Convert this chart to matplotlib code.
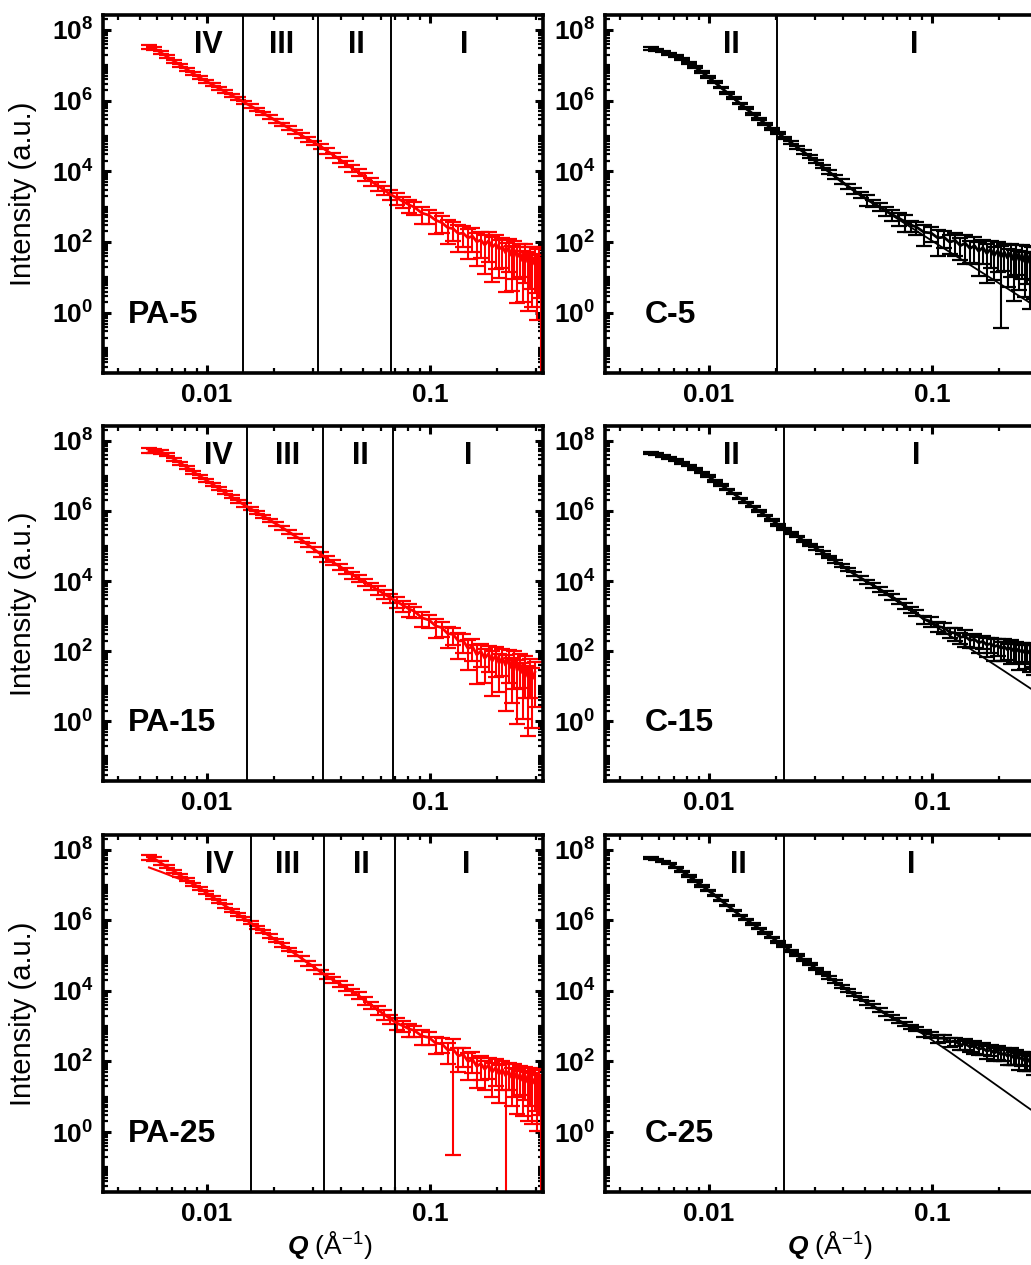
import numpy as np
import matplotlib
matplotlib.use("Agg")
import matplotlib.pyplot as plt
from matplotlib.ticker import LogLocator, FixedLocator, NullFormatter, FuncFormatter
import matplotlib.transforms as mtransforms

plt.rcParams['font.family'] = ['Liberation Sans', 'DejaVu Sans']
plt.rcParams['mathtext.fontset'] = 'custom'
plt.rcParams['mathtext.rm'] = 'Liberation Sans'
plt.rcParams['mathtext.bf'] = 'Liberation Sans:bold'
plt.rcParams['mathtext.it'] = 'Liberation Sans:italic'
plt.rcParams['mathtext.bfit'] = 'Liberation Sans:italic:bold'

# Q grid (1/A) shared by all six curves
q = [0.0055, 0.0058, 0.0062, 0.0066, 0.0071, 0.0076, 0.0081, 0.0087, 0.0093, 0.0099,
     0.0106, 0.0113, 0.0121, 0.0129, 0.0138, 0.0147, 0.0157, 0.0168, 0.0179, 0.0191,
     0.0204, 0.0218, 0.0233, 0.0249, 0.0266, 0.0284, 0.0303, 0.0323, 0.0345, 0.0368,
     0.0393, 0.042, 0.0448, 0.0478, 0.051, 0.0545, 0.0582, 0.0621, 0.0663, 0.0708,
     0.0756, 0.0807,
     0.085, 0.092, 0.099, 0.106, 0.113, 0.120, 0.127, 0.134, 0.141, 0.148,
     0.155, 0.162, 0.169, 0.176, 0.183, 0.190, 0.197, 0.204, 0.211, 0.218,
     0.225, 0.232, 0.239, 0.246, 0.253, 0.260, 0.267, 0.274, 0.281, 0.288,
     0.295, 0.302, 0.309, 0.316]

# log10 intensities
pa5 = [7.52, 7.48, 7.36, 7.25, 7.12, 7.00, 6.89, 6.76, 6.65, 6.55,
       6.45, 6.35, 6.25, 6.15, 6.05, 5.95, 5.85, 5.74, 5.64, 5.54,
       5.43, 5.33, 5.22, 5.12, 5.01, 4.91, 4.81, 4.71, 4.58, 4.46,
       4.34, 4.21, 4.09, 3.97, 3.85, 3.72, 3.60, 3.48, 3.35, 3.25,
       3.15, 3.05,
       2.99, 2.82, 2.76, 2.62, 2.55, 2.41, 2.38, 2.24, 2.25, 2.12,
       2.17, 2.01, 2.06, 1.92, 2.04, 1.86, 1.95, 1.80, 1.88, 1.70,
       1.84, 1.62, 1.77, 1.58, 1.70, 1.47, 1.68, 1.44, 1.59, 1.38,
       1.57, 1.33, 1.52, 1.25]
pa15 = [7.72, 7.71, 7.69, 7.61, 7.48, 7.36, 7.25, 7.11, 6.99, 6.88,
        6.76, 6.64, 6.52, 6.40, 6.28, 6.17, 6.06, 5.95, 5.85, 5.74,
        5.63, 5.52, 5.40, 5.28, 5.17, 5.03, 4.90, 4.77, 4.64, 4.53,
        4.42, 4.30, 4.18, 4.08, 3.97, 3.86, 3.75, 3.64, 3.53, 3.42,
        3.31, 3.20,
        3.14, 2.95, 2.89, 2.72, 2.67, 2.50, 2.48, 2.29, 2.30, 2.08,
        2.13, 1.90, 2.00, 1.80, 1.93, 1.72, 1.88, 1.66, 1.82, 1.60,
        1.78, 1.52, 1.74, 1.45, 1.66, 1.38, 1.58, 1.28, 1.50, 1.22,
        1.40]
pa25 = [7.78, 7.75, 7.63, 7.52, 7.40, 7.27, 7.16, 7.03, 6.91, 6.79,
        6.66, 6.54, 6.41, 6.29, 6.17, 6.05, 5.93, 5.80, 5.68, 5.56,
        5.43, 5.31, 5.18, 5.05, 4.92, 4.79, 4.67, 4.54, 4.42, 4.31,
        4.20, 4.09, 3.98, 3.87, 3.73, 3.60, 3.47, 3.34, 3.21, 3.09,
        3.01, 2.92,
        2.88, 2.72, 2.68, 2.52, 2.50, 2.33, 2.34, 2.16, 2.20, 2.00,
        2.06, 1.86, 1.94, 1.78, 1.90, 1.70, 1.83, 1.64, 1.78, 1.60,
        1.72, 1.55, 1.68, 1.50, 1.64, 1.46, 1.60, 1.41, 1.55, 1.38,
        1.52, 1.33, 1.48, 1.30]
c5 = [7.47, 7.44, 7.39, 7.33, 7.26, 7.18, 7.07, 6.94, 6.80, 6.67,
      6.52, 6.37, 6.22, 6.07, 5.92, 5.78, 5.63, 5.48, 5.35, 5.21,
      5.08, 4.95, 4.82, 4.68, 4.55, 4.41, 4.27, 4.13, 3.99, 3.85,
      3.71, 3.58, 3.45, 3.33, 3.21, 3.10, 3.00, 2.89, 2.78, 2.68,
      2.58, 2.48,
      2.43, 2.28, 2.26, 2.12, 2.14, 2.00, 2.05, 1.90, 1.97, 1.82,
      1.90, 1.74, 1.85, 1.68, 1.80, 1.62, 1.76, 1.58, 1.72, 1.55,
      1.70, 1.50, 1.67, 1.48, 1.65, 1.45, 1.63, 1.42, 1.62, 1.40,
      1.60, 1.38, 1.58, 1.36]
c15 = [7.65, 7.62, 7.57, 7.51, 7.45, 7.37, 7.29, 7.19, 7.09, 6.99,
       6.86, 6.74, 6.61, 6.49, 6.36, 6.24, 6.12, 5.99, 5.87, 5.74,
       5.61, 5.49, 5.38, 5.27, 5.15, 5.04, 4.93, 4.82, 4.69, 4.57,
       4.45, 4.32, 4.20, 4.09, 3.98, 3.88, 3.77, 3.66, 3.55, 3.43,
       3.30, 3.18,
       3.09, 2.91, 2.85, 2.71, 2.67, 2.54, 2.52, 2.40, 2.42, 2.31,
       2.34, 2.24, 2.28, 2.18, 2.22, 2.13, 2.17, 2.08, 2.13, 2.04,
       2.10, 2.01, 2.07, 1.98, 2.04, 1.96, 2.02, 1.94, 2.00, 1.92,
       1.98, 1.91, 1.97, 1.89]
c25 = [7.76, 7.72, 7.67, 7.61, 7.50, 7.38, 7.26, 7.11, 6.98, 6.85,
       6.71, 6.57, 6.42, 6.28, 6.14, 6.02, 5.90, 5.77, 5.64, 5.52,
       5.39, 5.27, 5.14, 5.01, 4.88, 4.76, 4.63, 4.51, 4.38, 4.26,
       4.14, 4.01, 3.89, 3.78, 3.67, 3.57, 3.46, 3.35, 3.25, 3.16,
       3.07, 2.98,
       2.93, 2.80, 2.77, 2.66, 2.66, 2.56, 2.57, 2.47, 2.50, 2.41,
       2.44, 2.35, 2.38, 2.29, 2.33, 2.24, 2.29, 2.19, 2.24, 2.15,
       2.20, 2.11, 2.16, 2.07, 2.12, 2.02, 2.08, 1.99, 2.05, 1.96,
       2.02, 1.93, 1.99, 1.90]

# relative errors (sigma / I)
pa5_err = [0.15, 0.12, 0.12, 0.1, 0.1, 0.1, 0.1, 0.1, 0.1, 0.1,
           0.1, 0.1, 0.1, 0.1, 0.1, 0.1, 0.1, 0.1, 0.1, 0.1,
           0.12, 0.12, 0.12, 0.12, 0.15, 0.15, 0.15, 0.15, 0.18, 0.18,
           0.2, 0.2, 0.22, 0.22, 0.25, 0.25, 0.28, 0.3, 0.3, 0.35,
           0.35, 0.4,
           0.4, 0.5, 0.45, 0.6, 0.5, 0.65, 0.55, 0.7, 0.6, 0.75,
           0.65, 0.8, 0.7, 0.85, 0.75, 0.9, 0.8, 0.85, 0.75, 0.92,
           0.8, 0.9, 0.85, 0.95, 0.8, 0.93, 0.85, 0.96, 0.88, 0.94,
           0.9, 0.97, 0.92, 1.05]
pa15_err = [0.15, 0.12, 0.12, 0.1, 0.1, 0.1, 0.1, 0.1, 0.1, 0.1,
            0.1, 0.1, 0.1, 0.1, 0.1, 0.1, 0.1, 0.1, 0.1, 0.1,
            0.12, 0.12, 0.12, 0.12, 0.15, 0.15, 0.15, 0.15, 0.18, 0.18,
            0.2, 0.2, 0.22, 0.22, 0.25, 0.25, 0.28, 0.3, 0.3, 0.35,
            0.35, 0.4,
            0.35, 0.45, 0.4, 0.55, 0.45, 0.6, 0.5, 0.7, 0.55, 0.75,
            0.6, 0.85, 0.65, 0.8, 0.7, 0.9, 0.75, 0.85, 0.7, 0.95,
            0.8, 0.9, 0.85, 0.97, 0.8, 0.95, 0.88, 0.98, 0.85, 0.96,
            0.9]
pa25_err = [0.15, 0.12, 0.12, 0.1, 0.1, 0.1, 0.1, 0.1, 0.1, 0.1,
            0.1, 0.1, 0.1, 0.1, 0.1, 0.1, 0.1, 0.1, 0.1, 0.1,
            0.12, 0.12, 0.12, 0.12, 0.15, 0.15, 0.15, 0.15, 0.18, 0.18,
            0.2, 0.2, 0.22, 0.22, 0.25, 0.25, 0.28, 0.3, 0.3, 0.35,
            0.35, 0.4,
            0.35, 0.45, 0.4, 0.5, 0.45, 0.6, 0.999, 0.65, 0.55, 0.7,
            0.6, 0.75, 0.65, 0.75, 0.6, 0.8, 0.7, 0.85, 0.75, 1.1,
            0.7, 0.85, 0.8, 0.9, 0.75, 0.9, 0.8, 0.92, 0.85, 0.93,
            0.88, 0.95, 0.9, 1.05]
c5_err = [0.08, 0.06, 0.06, 0.06, 0.06, 0.06, 0.06, 0.06, 0.06, 0.06,
          0.06, 0.06, 0.06, 0.06, 0.06, 0.06, 0.06, 0.06, 0.06, 0.06,
          0.08, 0.08, 0.08, 0.08, 0.1, 0.1, 0.1, 0.1, 0.12, 0.12,
          0.15, 0.15, 0.18, 0.2, 0.35, 0.2, 0.25, 0.3, 0.35, 0.4,
          0.5, 0.35,
          0.4, 0.6, 0.45, 0.7, 0.5, 0.55, 0.65, 0.6, 0.75, 0.6,
          0.7, 0.8, 0.65, 0.85, 0.7, 0.8, 0.75, 0.99, 0.7, 0.85,
          0.8, 0.93, 0.75, 0.85, 0.8, 0.9, 0.85, 0.95, 0.8, 0.9,
          0.85, 0.93, 0.88, 0.95]
c15_err = [0.06, 0.05, 0.05, 0.05, 0.05, 0.05, 0.05, 0.05, 0.05, 0.05,
           0.05, 0.05, 0.05, 0.05, 0.05, 0.05, 0.05, 0.05, 0.05, 0.05,
           0.06, 0.06, 0.06, 0.06, 0.07, 0.07, 0.08, 0.08, 0.08, 0.1,
           0.1, 0.1, 0.12, 0.12, 0.12, 0.15, 0.15, 0.15, 0.18, 0.18,
           0.2, 0.2,
           0.2, 0.25, 0.3, 0.3, 0.35, 0.3, 0.4, 0.35, 0.5, 0.4,
           0.45, 0.5, 0.4, 0.55, 0.45, 0.6, 0.5, 0.55, 0.6, 0.5,
           0.65, 0.55, 0.6, 0.7, 0.55, 0.65, 0.6, 0.7, 0.65, 0.75,
           0.6, 0.7, 0.65, 0.8]
c25_err = [0.06, 0.05, 0.05, 0.05, 0.05, 0.05, 0.05, 0.05, 0.05, 0.05,
           0.05, 0.05, 0.05, 0.05, 0.05, 0.05, 0.05, 0.05, 0.05, 0.05,
           0.06, 0.06, 0.06, 0.06, 0.07, 0.07, 0.08, 0.08, 0.08, 0.1,
           0.1, 0.1, 0.1, 0.1, 0.12, 0.12, 0.12, 0.12, 0.15, 0.15,
           0.15, 0.15,
           0.15, 0.2, 0.2, 0.25, 0.2, 0.3, 0.25, 0.3, 0.35, 0.3,
           0.4, 0.3, 0.35, 0.4, 0.35, 0.4, 0.45, 0.35, 0.4, 0.45,
           0.5, 0.4, 0.45, 0.5, 0.45, 0.5, 0.55, 0.45, 0.5, 0.55,
           0.5, 0.6, 0.55, 0.85]

# fitted curves (log10 I)
fit_q = [0.0055, 0.0065, 0.0075, 0.009, 0.011, 0.014, 0.018, 0.024, 0.032,
         0.042, 0.055, 0.07, 0.09, 0.12, 0.16, 0.21, 0.26, 0.32]
c5_fit = [7.48, 7.36, 7.20, 6.90, 6.46, 5.85, 5.34, 4.74, 4.15,
          3.58, 3.08, 2.66, 2.22, 1.72, 1.22, 0.75, 0.38, 0.02]
c15_fit = [7.66, 7.53, 7.39, 7.15, 6.80, 6.33, 5.86, 5.33, 4.83,
           4.32, 3.85, 3.41, 2.96, 2.45, 1.93, 1.44, 1.05, 0.67]
c25_fit = [7.77, 7.64, 7.45, 7.08, 6.66, 6.12, 5.63, 5.07, 4.51,
           4.02, 3.53, 3.14, 2.80, 2.27, 1.71, 1.18, 0.76, 0.36]
pa25_fit_q = [0.0055, 0.0062, 0.0070, 0.0078, 0.0085, 0.0095]
pa25_fit = [7.50, 7.38, 7.25, 7.14, 7.05, 6.87]

names_pa = ["PA-5", "PA-15", "PA-25"]
names_c = ["C-5", "C-15", "C-25"]
pa_data = [pa5, pa15, pa25]
pa_errs = [pa5_err, pa15_err, pa25_err]
c_data = [c5, c15, c25]
c_errs = [c5_err, c15_err, c25_err]
c_fits = [c5_fit, c15_fit, c25_fit]
pa_bounds = [[0.0145, 0.0315, 0.0668], [0.0151, 0.0330, 0.0684], [0.0158, 0.0335, 0.0697]]
c_bounds = [0.0202, 0.0218, 0.0218]
pa_region_x = [[0.0101, 0.0217, 0.0466, 0.142], [0.0112, 0.0231, 0.0485, 0.148],
               [0.0114, 0.0231, 0.049, 0.146]]
c_region_x = [[0.0126, 0.0828], [0.0126, 0.0845], [0.0136, 0.081]]
pa_regions = ["IV", "III", "II", "I"]
c_regions = ["II", "I"]

W, H = 1031, 1265
fig = plt.figure(figsize=(W / 100, H / 100), dpi=100)

rows_top = [15, 426, 835]
rows_bot = [373, 781, 1192]
col_left = [103, 605]
ax_w = 440


def style_axis(ax):
    ax.set_xscale('log')
    ax.set_yscale('log')
    ax.set_xlim(0.00342, 0.321)
    ax.set_ylim(10 ** -1.7, 10 ** 8.42)
    for s in ax.spines.values():
        s.set_linewidth(2.6)
    ax.xaxis.set_major_locator(FixedLocator([0.01, 0.1, 1.0]))
    ax.xaxis.set_minor_locator(LogLocator(base=10, subs=np.arange(2, 10), numticks=20))
    ax.xaxis.set_major_formatter(FuncFormatter(lambda v, p: {0.01: "0.01", 0.1: "0.1"}.get(round(v, 3), "")))
    ax.xaxis.set_minor_formatter(NullFormatter())
    ax.yaxis.set_major_locator(FixedLocator([1e0, 1e2, 1e4, 1e6, 1e8]))
    ax.yaxis.set_minor_locator(LogLocator(base=10, subs=np.arange(1, 10), numticks=30))
    ax.yaxis.set_major_formatter(FuncFormatter(lambda v, p: r"$\mathbf{10^{%d}}$" % round(np.log10(v))))
    ax.yaxis.set_minor_formatter(NullFormatter())
    ax.tick_params(which='both', direction='in', top=True, right=True)
    ax.tick_params(which='major', length=6, width=2.2, labelsize=19, pad=7)
    ax.tick_params(which='minor', length=3.5, width=1.6)
    for lab in ax.get_xticklabels():
        lab.set_fontweight('bold')


for r in range(3):
    bottom = 1 - rows_bot[r] / H
    height = (rows_bot[r] - rows_top[r]) / H

    # left column: PA samples
    ax = fig.add_axes([col_left[0] / W, bottom, ax_w / W, height])
    style_axis(ax)
    qq = q[:len(pa_data[r])]
    yy = 10 ** np.array(pa_data[r])
    ax.errorbar(qq, yy, yerr=yy * np.array(pa_errs[r]), color='#ff0000', lw=2.0,
                elinewidth=1.5, capsize=5.5, capthick=1.6)
    if r == 2:
        ax.plot(pa25_fit_q, 10 ** np.array(pa25_fit), color='#ff0000', lw=1.5)
    for b in pa_bounds[r]:
        ax.axvline(b, color='black', lw=1.4)
    tr = mtransforms.blended_transform_factory(ax.transData, ax.transAxes)
    for xr, lab in zip(pa_region_x[r], pa_regions):
        ax.text(xr, 0.915, lab, transform=tr, ha='center', va='center',
                fontsize=22, fontweight='bold')
    ax.text(0.057, 0.162, names_pa[r], transform=ax.transAxes, ha='left', va='center',
            fontsize=23, fontweight='bold')
    ax.set_ylabel("Intensity (a.u.)", fontsize=21)
    ax.yaxis.set_label_coords(-0.15, 0.5)
    if r == 2:
        ax.text(0.516, -0.148, r"$\mathbfit{Q}$ ($\mathrm{\AA}^{-1}$)", transform=ax.transAxes,
                ha='center', va='center', fontsize=19)

    # right column: C samples
    ax = fig.add_axes([col_left[1] / W, bottom, ax_w / W, height])
    style_axis(ax)
    yy = 10 ** np.array(c_data[r])
    ax.plot(fit_q, 10 ** np.array(c_fits[r]), color='black', lw=1.3)
    ax.errorbar(q, yy, yerr=yy * np.array(c_errs[r]), color='black', lw=2.0,
                elinewidth=1.5, capsize=5.5, capthick=1.6)
    ax.axvline(c_bounds[r], color='black', lw=1.4)
    tr = mtransforms.blended_transform_factory(ax.transData, ax.transAxes)
    for xr, lab in zip(c_region_x[r], c_regions):
        ax.text(xr, 0.915, lab, transform=tr, ha='center', va='center',
                fontsize=22, fontweight='bold')
    ax.text(0.091, 0.162, names_c[r], transform=ax.transAxes, ha='left', va='center',
            fontsize=23, fontweight='bold')
    if r == 2:
        ax.text(0.511, -0.148, r"$\mathbfit{Q}$ ($\mathrm{\AA}^{-1}$)", transform=ax.transAxes,
                ha='center', va='center', fontsize=19)

fig.savefig("out.png", dpi=100)
